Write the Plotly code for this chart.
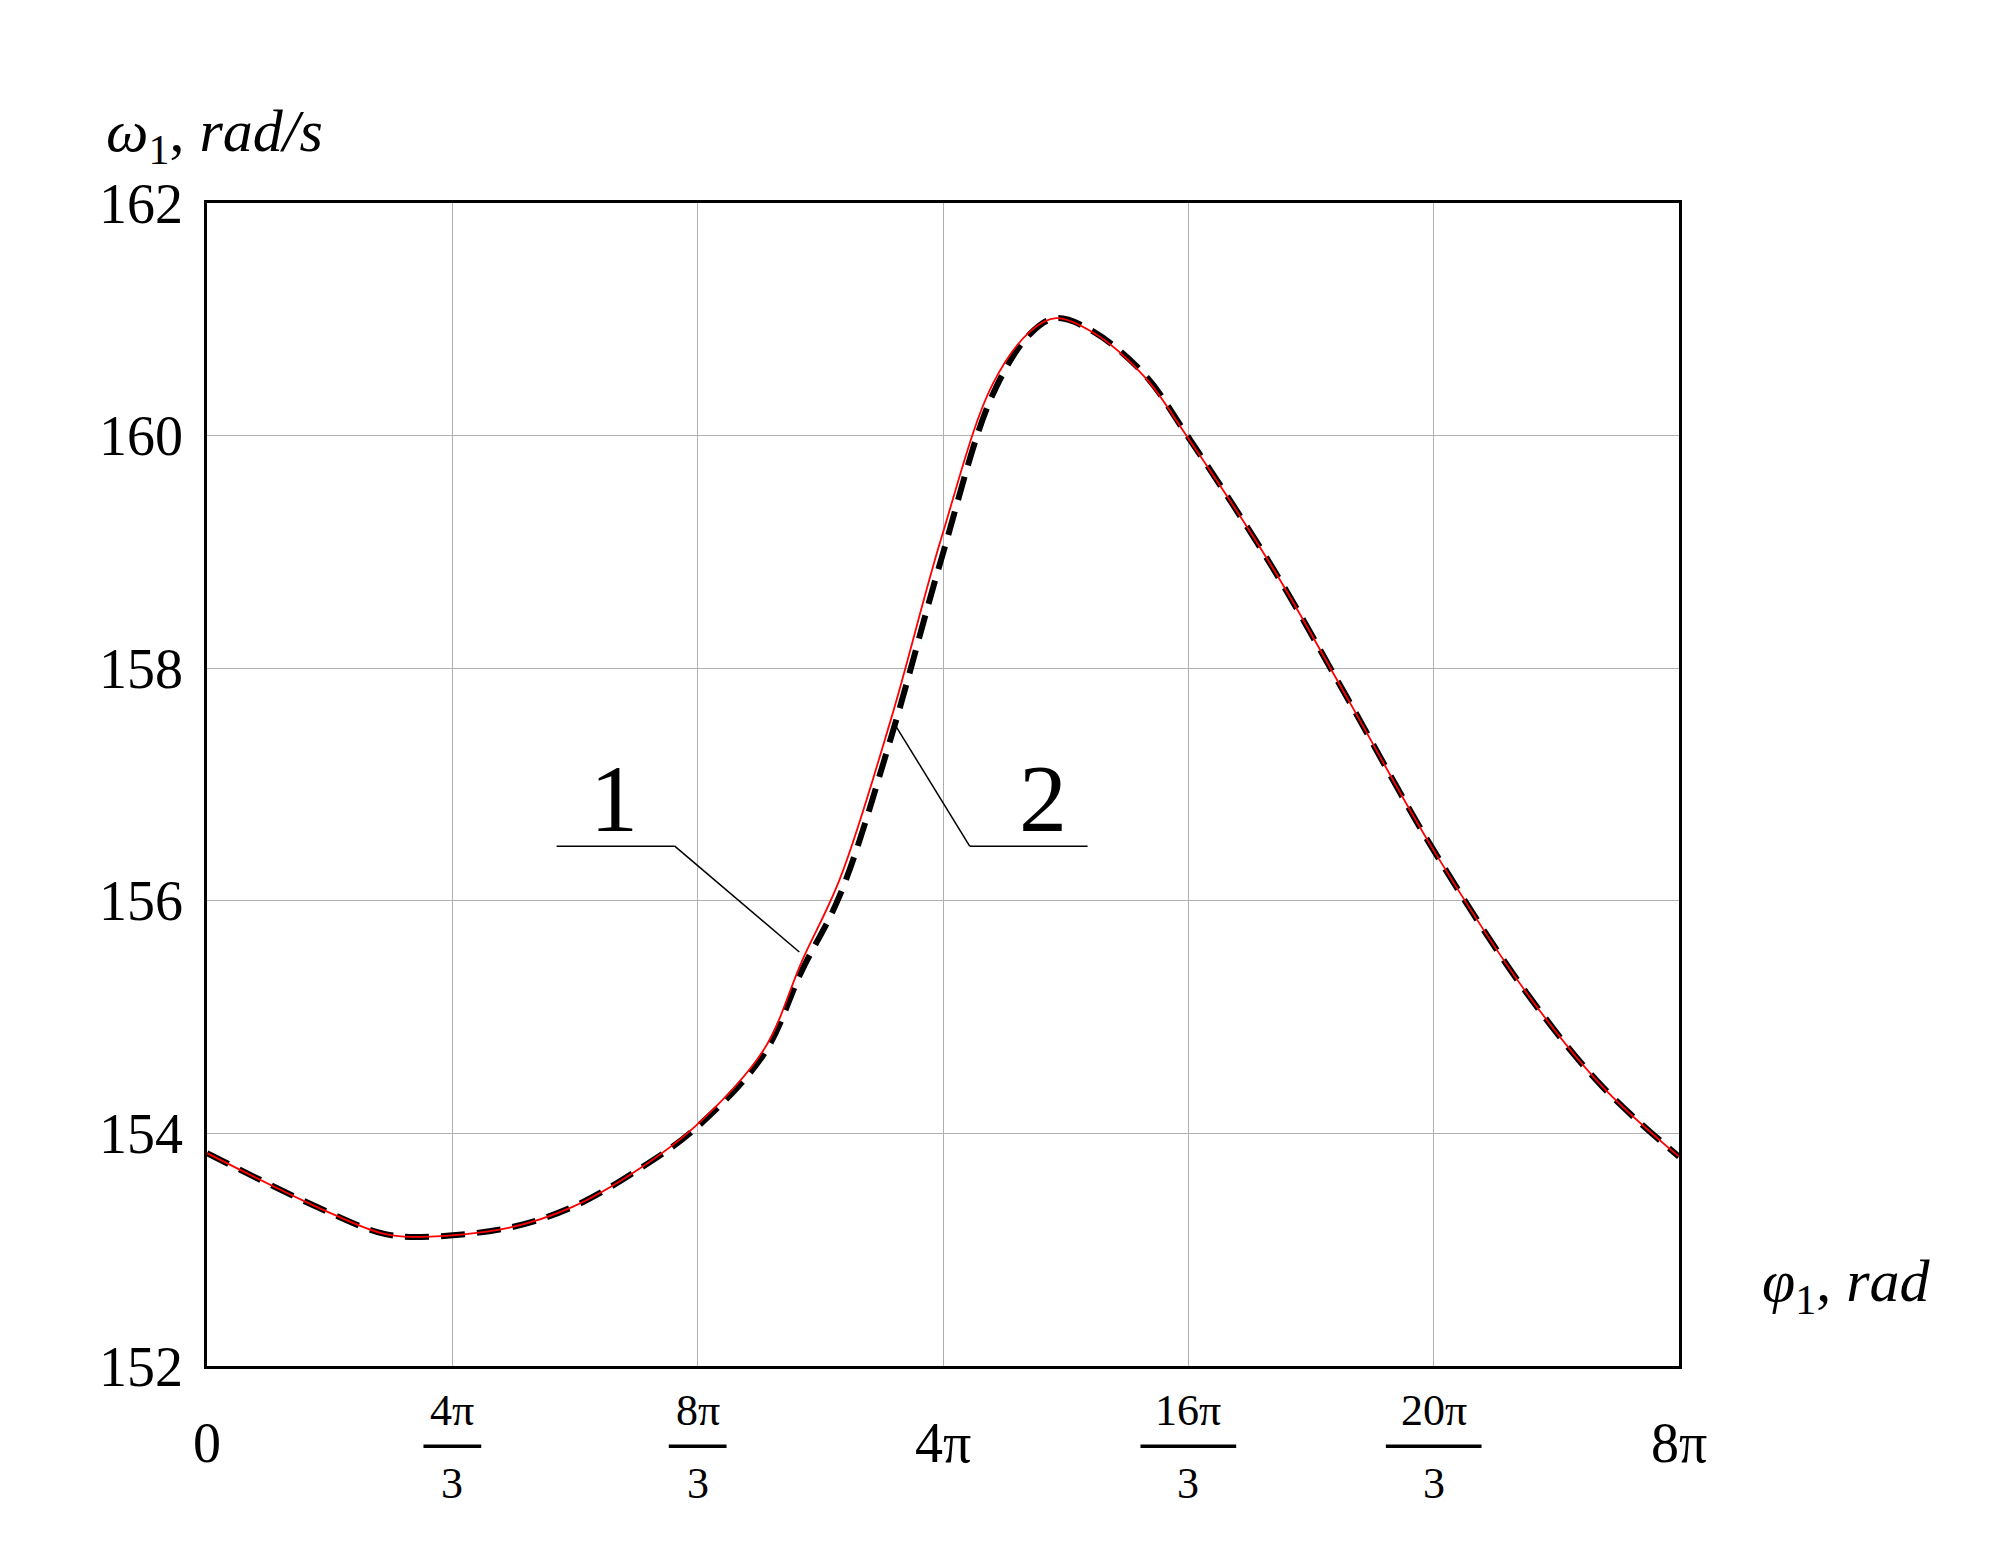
import numpy as np
import plotly.graph_objects as go

# angle in units of pi
phi_pi = [0, 0.608, 0.953, 1.161, 1.644, 1.990, 2.335, 2.653, 3.026, 3.233, 3.440, 3.717, 3.993,
          4.269, 4.477, 4.615, 4.822, 5.098, 5.319, 5.789, 6.202, 6.653, 7.171, 7.585, 8.0]
omega_1 = [153.83, 153.36, 153.14, 153.11, 153.19, 153.37, 153.68, 154.06, 154.72, 155.48, 156.19,
           157.56, 159.13, 160.44, 160.90, 161.01, 160.88, 160.50, 160.01, 158.87, 157.73, 156.47,
           155.21, 154.40, 153.80]
omega_2 = [153.83, 153.36, 153.14, 153.11, 153.19, 153.37, 153.68, 154.04, 154.68, 155.40, 156.05,
           157.40, 158.95, 160.35, 160.88, 161.01, 160.89, 160.52, 160.02, 158.87, 157.73, 156.47,
           155.21, 154.40, 153.80]
tick_pi = [0, 4/3, 8/3, 4, 16/3, 20/3, 8]
y_ticks = [152, 154, 156, 158, 160, 162]

x = np.array(phi_pi) * np.pi
FONT = "Liberation Serif"
P = np.pi

fig = go.Figure()
fig.add_trace(go.Scatter(x=x, y=omega_2, mode="lines",
                         line=dict(color="black", width=6, dash="24px,12px", shape="spline", smoothing=1.0)))
fig.add_trace(go.Scatter(x=x, y=omega_1, mode="lines",
                         line=dict(color="red", width=1.8, shape="spline", smoothing=1.0)))

fig.update_xaxes(range=[0, 8*P], tickvals=[t*P for t in tick_pi], showticklabels=False,
                 showgrid=True, gridcolor="#b0b0b0", gridwidth=1.2, showline=True, linecolor="black",
                 linewidth=2.5, mirror=True, zeroline=False)
fig.update_yaxes(range=[152, 162], tickvals=y_ticks, ticks="", tickfont=dict(family=FONT, size=56, color="black"),
                 showgrid=True, gridcolor="#b0b0b0", gridwidth=1.2, showline=True, linecolor="black",
                 linewidth=2.5, mirror=True, zeroline=False, ticklabelstandoff=10)

ann = []
shapes = []
plain = {0: "0", 4: "4π", 8: "8π"}
frac = {4/3: ("4π", 0.157), 8/3: ("8π", 0.157), 16/3: ("16π", 0.26), 20/3: ("20π", 0.26)}
for t in tick_pi:
    xv = t*P
    if t in plain:
        ann.append(dict(x=xv, y=-0.095, xref="x", yref="paper", text=plain[t], showarrow=False,
                        font=dict(family=FONT, size=56, color="black")))
    else:
        num, hw = frac[t]
        ann.append(dict(x=xv, y=-0.061, xref="x", yref="paper", text=num, showarrow=False,
                        font=dict(family=FONT, size=44, color="black")))
        ann.append(dict(x=xv, y=-0.124, xref="x", yref="paper", text="3", showarrow=False,
                        font=dict(family=FONT, size=44, color="black")))
        shapes.append(dict(type="line", xref="x", yref="paper", x0=xv - hw*P, x1=xv + hw*P,
                           y0=-0.069, y1=-0.069, line=dict(color="black", width=3.5)))

# curve labels and leader lines
shapes += [
    dict(type="line", x0=1.900*P, x1=2.542*P, y0=156.47, y1=156.47, line=dict(color="black", width=1.5)),
    dict(type="line", x0=2.542*P, x1=3.219*P, y0=156.47, y1=155.56, line=dict(color="black", width=1.5)),
    dict(type="line", x0=4.145*P, x1=4.786*P, y0=156.47, y1=156.47, line=dict(color="black", width=1.5)),
    dict(type="line", x0=4.145*P, x1=3.737*P, y0=156.47, y1=157.52, line=dict(color="black", width=1.5)),
]
plot_w = 1995 - 199 - 324
plot_h = 1562 - 195 - 204
ann += [
    dict(x=2.21*P, y=156.88, text="1", showarrow=False, font=dict(family=FONT, size=96, color="black")),
    dict(x=4.545*P, y=156.88, text="2", showarrow=False, font=dict(family=FONT, size=96, color="black")),
    dict(x=(96-199)/plot_w, y=1.0 + (195-88)/plot_h, xref="paper", yref="paper", xanchor="left",
         text="<i>ω</i><sub>1</sub>, <i>rad/s</i>", showarrow=False, font=dict(family=FONT, size=60, color="black")),
    dict(x=(1752-199)/plot_w, y=(1358-1317)/plot_h, xref="paper", yref="paper", xanchor="left",
         text="<i>φ</i><sub>1</sub>, <i>rad</i>", showarrow=False, font=dict(family=FONT, size=60, color="black")),
]

fig.update_layout(width=1995, height=1562, margin=dict(l=199, r=324, t=195, b=204),
                  plot_bgcolor="white", paper_bgcolor="white", showlegend=False,
                  annotations=ann, shapes=shapes)
fig.write_html("out.html")
